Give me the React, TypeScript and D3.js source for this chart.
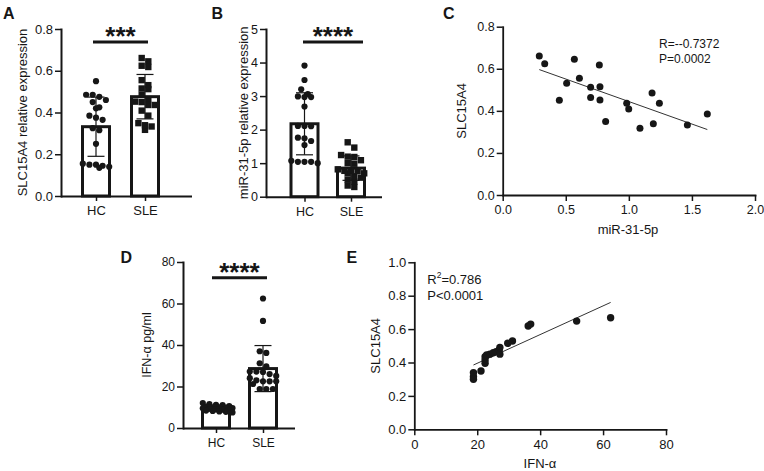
import React, { useEffect, useRef } from 'react';
import * as d3 from 'd3';

// groups on the bar plots
const groups = ['HC', 'SLE'];

// A - SLC15A4 relative expression
const slcHC = [0.55, 0.485, 0.485, 0.475, 0.46, 0.45, 0.425, 0.42, 0.385, 0.375, 0.365, 0.325, 0.315, 0.25, 0.155, 0.15, 0.15, 0.145, 0.14, 0.135];
// SLE patients, also the y values of scatter C
const slcSLE = [0.661, 0.624, 0.45, 0.531, 0.645, 0.555, 0.512, 0.464, 0.618, 0.515, 0.452, 0.349, 0.436, 0.409, 0.317, 0.485, 0.339, 0.436, 0.333, 0.385];

// B - miR-31-5p relative expression
const mirHC = [3.91, 3.48, 3.2, 3.06, 2.99, 2.97, 2.97, 2.69, 2.1, 2.11, 2.11, 1.76, 1.74, 1.66, 1.54, 1.07, 1.04, 1.04, 1.04, 1.0];
// SLE patients, also the x values of scatter C
const mirSLE = [0.29, 0.333, 0.449, 0.507, 0.568, 0.608, 0.697, 0.697, 0.766, 0.771, 0.771, 0.816, 0.983, 0.999, 1.088, 1.184, 1.194, 1.242, 1.464, 1.622];

// D - IFN-alpha pg/ml
const ifnHC = [12.0, 11.5, 11.2, 11.0, 10.5, 10.3, 10.0, 10.0, 9.8, 9.6, 9.5, 9.3, 9.0, 8.8, 8.6, 8.4, 8.2, 8.0, 7.8, 7.5];
const ifnSLE = [18.8, 18.8, 18.8, 21.2, 22.5, 22.5, 22.5, 23.0, 24.0, 25.1, 26.0, 27.0, 27.2, 27.2, 29.7, 31.2, 36.2, 37.0, 51.6, 62.4];

// E - SLC15A4 against IFN-alpha (x = ifnSLE)
const slcE = [0.339, 0.315, 0.3, 0.349, 0.435, 0.415, 0.395, 0.445, 0.45, 0.458, 0.465, 0.475, 0.45, 0.49, 0.515, 0.529, 0.619, 0.63, 0.648, 0.668];

const FONT = '"Liberation Sans", Arial, Helvetica, sans-serif';
const INK = '#161616';
const BAR_W = 27;

// put dots with close values side by side, like a column scatter
function spread(vals: number[], y: (v: number) => number, step: number, maxN = 5) {
  const idx = vals.map((_, i) => i).sort((a, b) => vals[b] - vals[a]);
  const rows: { ids: number[]; shift: number }[] = [];
  let cur: number[] = [];
  let start = 0;
  let shift = 0;
  idx.forEach(i => {
    const py = y(vals[i]);
    if (cur.length && py - start < step * 0.85 && cur.length < maxN) cur.push(i);
    else {
      if (cur.length) rows.push({ ids: cur, shift });
      // a full row that wraps gets nudged half a step so the dots interleave
      shift = cur.length && py - start < step * 0.85 ? (shift ? 0 : step / 2) : 0;
      cur = [i];
      start = py;
    }
  });
  if (cur.length) rows.push({ ids: cur, shift });
  const off = new Array(vals.length).fill(0);
  rows.forEach(r => r.ids.forEach((i, k) => { off[i] = (k - (r.ids.length - 1) / 2) * step + r.shift; }));
  return off;
}

function panelLabel(svg: any, txt: string, x: number, y: number) {
  svg.append('text').attr('x', x).attr('y', y).attr('font-family', FONT)
    .attr('font-weight', 'bold').attr('font-size', 16).attr('fill', INK).text(txt);
}

function yTitle(svg: any, txt: string, x: number, y: number, fs: number) {
  svg.append('text').attr('transform', `translate(${x},${y}) rotate(-90)`)
    .attr('text-anchor', 'middle').attr('dy', '0.35em').attr('font-family', FONT)
    .attr('font-size', fs).attr('fill', INK).text(txt);
}

function barPanel(svg: any, p: any) {
  const g = svg.append('g');
  const y = d3.scaleLinear().domain(p.domain).range([p.bottom, p.top]);
  const x = d3.scalePoint<string>().domain(groups).range(p.centers);

  p.series.forEach((s: any, i: number) => {
    const cx = x(groups[i])!;
    const m = d3.mean(s.values as number[])!;
    const sd = d3.deviation(s.values as number[])!;
    g.append('rect')
      .attr('x', cx - BAR_W / 2).attr('y', y(m))
      .attr('width', BAR_W).attr('height', y(0) - y(m))
      .attr('fill', '#fff').attr('stroke', INK).attr('stroke-width', 3);

    const off = spread(s.values, y, 6.6);
    if (s.shape === 'square') {
      g.append('g').selectAll('rect').data(s.values).join('rect')
        .attr('x', (d: number, j: number) => cx + off[j] - 3.2)
        .attr('y', (d: number) => y(d) - 3.2)
        .attr('width', 6.4).attr('height', 6.4).attr('fill', INK);
    } else {
      g.append('g').selectAll('circle').data(s.values).join('circle')
        .attr('cx', (d: number, j: number) => cx + off[j])
        .attr('cy', (d: number) => y(d))
        .attr('r', 3.1).attr('fill', INK);
    }

    // mean +/- SD
    const eb = g.append('g').attr('stroke', INK).attr('stroke-width', 1.2);
    eb.append('line').attr('x1', cx).attr('x2', cx).attr('y1', y(m - sd)).attr('y2', y(m + sd));
    [m - sd, m + sd].forEach(v => {
      eb.append('line').attr('x1', cx - 8.5).attr('x2', cx + 8.5).attr('y1', y(v)).attr('y2', y(v));
    });
  });

  // axes
  const ya = g.append('g').attr('transform', `translate(${p.left},0)`)
    .call(d3.axisLeft(y).tickValues(p.ticks).tickFormat(d3.format(p.fmt)).tickSize(6).tickPadding(2).tickSizeOuter(0));
  ya.attr('font-family', FONT).attr('font-size', p.fs).attr('color', INK);
  ya.select('.domain').attr('stroke-width', 2).attr('stroke-linecap', 'square');
  ya.selectAll('.tick line').attr('stroke-width', 1.5);

  g.append('line').attr('x1', p.left).attr('x2', p.right).attr('y1', p.bottom + 0.5).attr('y2', p.bottom + 0.5)
    .attr('stroke', INK).attr('stroke-width', 2);
  const xa = g.append('g').attr('transform', `translate(0,${p.bottom})`)
    .call(d3.axisBottom(x).tickSize(5).tickPadding(5));
  xa.attr('font-family', FONT).attr('font-size', p.fs).attr('color', INK);
  xa.select('.domain').remove();
  xa.selectAll('.tick line').attr('stroke-width', 1.5);

  // significance
  const ly = y(p.sig.at);
  g.append('line')
    .attr('x1', x(groups[0])! + p.sig.span[0]).attr('x2', x(groups[1])! + p.sig.span[1])
    .attr('y1', ly).attr('y2', ly).attr('stroke', INK).attr('stroke-width', 3);
  g.append('text')
    .attr('x', (x(groups[0])! + p.sig.span[0] + x(groups[1])! + p.sig.span[1]) / 2)
    .attr('y', ly - 11 + 0.53 * 26)
    .attr('text-anchor', 'middle').attr('font-family', FONT).attr('font-weight', 'bold')
    .attr('font-size', 26).attr('fill', INK).text(p.sig.stars);

  yTitle(svg, p.title, p.titleX, (p.top + p.bottom) / 2, p.titleFs);
  panelLabel(svg, p.label[0], p.label[1], p.label[2]);
}

function scatterPanel(svg: any, p: any) {
  const g = svg.append('g');
  const x = d3.scaleLinear().domain(p.xDomain).range([p.left, p.right]);
  const y = d3.scaleLinear().domain(p.yDomain).range([p.bottom, p.top]);

  // least squares line over the range of x
  const mx = d3.mean(p.xs as number[])!;
  const my = d3.mean(p.ys as number[])!;
  const sxy = d3.sum(p.xs as number[], (v: number, i: number) => (v - mx) * (p.ys[i] - my));
  const sxx = d3.sum(p.xs as number[], (v: number) => (v - mx) ** 2);
  const b = sxy / sxx;
  const a = my - b * mx;
  const [x0, x1] = d3.extent(p.xs as number[]) as [number, number];
  g.append('line')
    .attr('x1', x(x0)).attr('y1', y(a + b * x0)).attr('x2', x(x1)).attr('y2', y(a + b * x1))
    .attr('stroke', '#333').attr('stroke-width', 1);

  g.append('g').selectAll('circle').data(p.xs).join('circle')
    .attr('cx', (d: number) => x(d)).attr('cy', (d: number, i: number) => y(p.ys[i]))
    .attr('r', p.r).attr('fill', INK);

  const ya = g.append('g').attr('transform', `translate(${p.left},0)`)
    .call(d3.axisLeft(y).tickValues(p.yTicks).tickFormat(d3.format(p.yFmt)).tickSize(6).tickPadding(2).tickSizeOuter(0));
  ya.attr('font-family', FONT).attr('font-size', p.fs).attr('color', INK);
  ya.select('.domain').attr('stroke-width', 1.8).attr('stroke-linecap', 'square');
  ya.selectAll('.tick line').attr('stroke-width', 1.5);

  const xa = g.append('g').attr('transform', `translate(0,${p.bottom})`)
    .call(d3.axisBottom(x).tickValues(p.xTicks).tickFormat(d3.format(p.xFmt)).tickSize(6).tickPadding(4).tickSizeOuter(0));
  xa.attr('font-family', FONT).attr('font-size', p.fs).attr('color', INK);
  xa.select('.domain').attr('stroke-width', 1.8).attr('stroke-linecap', 'square');
  xa.selectAll('.tick line').attr('stroke-width', 1.5);

  svg.append('text').attr('x', p.xTitle[1]).attr('y', p.xTitle[2]).attr('text-anchor', 'middle')
    .attr('font-family', FONT).attr('font-size', 13).attr('fill', INK).text(p.xTitle[0]);
  yTitle(svg, p.yTitle[0], p.yTitle[1], (p.top + p.bottom) / 2, 13);
  panelLabel(svg, p.label[0], p.label[1], p.label[2]);

  p.notes.forEach((n: any) => {
    const t = svg.append('text').attr('x', n.x).attr('y', n.y).attr('font-family', FONT)
      .attr('font-size', n.fs).attr('fill', INK);
    if (n.sup) {
      t.append('tspan').text(n.text[0]);
      t.append('tspan').attr('font-size', n.fs * 0.65).attr('dy', -6).text(n.sup);
      t.append('tspan').attr('dy', 6).text(n.text[1]);
    } else {
      t.text(n.text);
    }
  });
}

export default function App() {
  const ref = useRef<SVGSVGElement>(null);

  useEffect(() => {
    const svg = d3.select(ref.current);
    svg.selectAll('*').remove();

    barPanel(svg, {
      label: ['A', 3, 18.5], left: 61, right: 192, top: 29, bottom: 196, centers: [96, 145],
      domain: [0, 0.8], ticks: [0, 0.2, 0.4, 0.6, 0.8], fmt: '.1f', fs: 13,
      title: 'SLC15A4 relative expression', titleX: 22, titleFs: 13,
      series: [{ values: slcHC, shape: 'circle' }, { values: slcSLE, shape: 'square' }],
      sig: { at: 0.738, span: [-3, 3], stars: '***' },
    });

    barPanel(svg, {
      label: ['B', 211.5, 18.5], left: 266, right: 382, top: 29, bottom: 196.7, centers: [304.5, 351],
      domain: [0, 5], ticks: [0, 1, 2, 3, 4, 5], fmt: 'd', fs: 12.5,
      title: 'miR-31-5p relative expression', titleX: 243, titleFs: 13,
      series: [{ values: mirHC, shape: 'circle' }, { values: mirSLE, shape: 'square' }],
      sig: { at: 4.61, span: [-1.5, 12], stars: '****' },
    });

    barPanel(svg, {
      label: ['D', 120.5, 262.7], left: 183, right: 295, top: 262, bottom: 428, centers: [216, 263],
      domain: [0, 80], ticks: [0, 20, 40, 60, 80], fmt: 'd', fs: 12,
      title: 'IFN-α pg/ml', titleX: 147, titleFs: 12.5,
      series: [{ values: ifnHC, shape: 'circle' }, { values: ifnSLE, shape: 'circle' }],
      sig: { at: 72.4, span: [-4, 4], stars: '****' },
    });

    scatterPanel(svg, {
      label: ['C', 443, 18.5], left: 502.7, right: 755, top: 26.7, bottom: 195,
      xDomain: [0, 2], yDomain: [0, 0.8], xTicks: [0, 0.5, 1, 1.5, 2], yTicks: [0, 0.2, 0.4, 0.6, 0.8],
      xFmt: '.1f', yFmt: '.1f', fs: 12.5, r: 3.5,
      xs: mirSLE, ys: slcSLE,
      xTitle: ['miR-31-5p', 628, 234], yTitle: ['SLC15A4', 461.5],
      notes: [
        { text: 'R=--0.7372', x: 659, y: 47.5, fs: 12 },
        { text: 'P=0.0002', x: 659, y: 63, fs: 12 },
      ],
    });

    scatterPanel(svg, {
      label: ['E', 346.5, 262.7], left: 414.3, right: 666, top: 262.3, bottom: 429.3,
      xDomain: [0, 80], yDomain: [0, 1], xTicks: [0, 20, 40, 60, 80], yTicks: [0, 0.2, 0.4, 0.6, 0.8, 1.0],
      xFmt: 'd', yFmt: '.1f', fs: 13, r: 3.7,
      xs: ifnSLE, ys: slcE,
      xTitle: ['IFN-α', 540, 467.5], yTitle: ['SLC15A4', 375],
      notes: [
        { text: ['R', '=0.786'], sup: '2', x: 427.3, y: 283.5, fs: 13 },
        { text: 'P<0.0001', x: 427.3, y: 300, fs: 13 },
      ],
    });
  }, []);

  return (
    <svg ref={ref} width={764} height={471}
      style={{ position: 'absolute', left: 0, top: 0, background: '#fff' }} />
  );
}
